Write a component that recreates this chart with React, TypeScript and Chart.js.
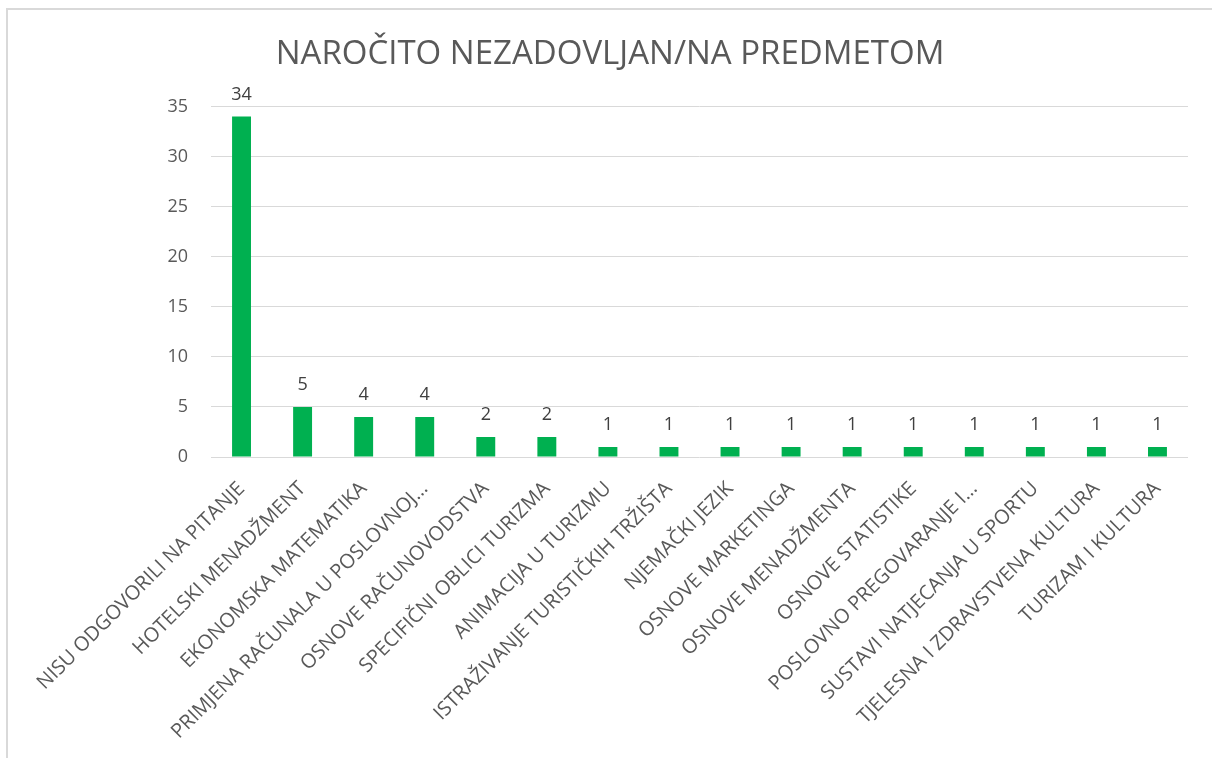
import React, { useEffect, useRef } from "react";
import { Chart, registerables } from "chart.js";

Chart.register(...registerables);

const categories = [
  "NISU ODGOVORILI NA PITANJE",
  "HOTELSKI MENADŽMENT",
  "EKONOMSKA MATEMATIKA",
  "PRIMJENA RAČUNALA U POSLOVNOJ…",
  "OSNOVE RAČUNOVODSTVA",
  "SPECIFIČNI OBLICI TURIZMA",
  "ANIMACIJA U TURIZMU",
  "ISTRAŽIVANJE TURISTIČKIH TRŽIŠTA",
  "NJEMAČKI JEZIK",
  "OSNOVE MARKETINGA",
  "OSNOVE MENADŽMENTA",
  "OSNOVE STATISTIKE",
  "POSLOVNO PREGOVARANJE I…",
  "SUSTAVI NATJECANJA U SPORTU",
  "TJELESNA I ZDRAVSTVENA KULTURA",
  "TURIZAM I KULTURA",
];

const values = [34, 5, 4, 4, 2, 2, 1, 1, 1, 1, 1, 1, 1, 1, 1, 1];

const titleText = "NAROČITO NEZADOVLJAN/NA PREDMETOM";

const yMin = 0;
const yMax = 35;
const yStep = 5;

const valueLabelPlugin = {
  id: "valueLabels",
  afterDatasetsDraw(chart: any) {
    const ctx = chart.ctx;
    const meta = chart.getDatasetMeta(0);
    ctx.save();
    ctx.font = "18px 'Open Sans'";
    ctx.fillStyle = "#404040";
    ctx.textAlign = "center";
    ctx.textBaseline = "alphabetic";
    meta.data.forEach((bar: any, i: number) => {
      const v = chart.data.datasets[0].data[i];
      ctx.fillText(String(v), bar.x, bar.y - 17);
    });
    ctx.restore();
  },
};

export default function App() {
  const canvasRef = useRef<HTMLCanvasElement | null>(null);

  useEffect(() => {
    if (!canvasRef.current) return;
    const chart = new Chart(canvasRef.current, {
      type: "bar",
      data: {
        labels: categories,
        datasets: [
          {
            data: values,
            backgroundColor: "#00B050",
            borderWidth: 0,
            categoryPercentage: 1,
            barPercentage: 0.31,
          },
        ],
      },
      options: {
        responsive: false,
        animation: false,
        layout: { padding: { left: 24, right: 24, top: 0, bottom: 0 } },
        plugins: {
          legend: { display: false },
          tooltip: { enabled: false },
          title: {
            display: true,
            text: titleText,
            color: "#595959",
            font: { family: "'Open Sans'", size: 33, weight: "normal", lineHeight: 1.2 },
            padding: { top: 25, bottom: 32 },
          },
        },
        scales: {
          x: {
            grid: { display: false, drawTicks: false },
            border: { display: false },
            ticks: {
              autoSkip: false,
              maxRotation: 45,
              minRotation: 45,
              padding: 20,
              color: "#595959",
              font: { family: "'Open Sans'", size: 20 },
            },
            afterFit(scale: any) {
              scale.height = 301;
            },
          },
          y: {
            min: yMin,
            max: yMax,
            grid: { color: "#d9d9d9", lineWidth: 1, drawTicks: false },
            border: { display: false },
            ticks: {
              stepSize: yStep,
              padding: 23,
              color: "#595959",
              font: { family: "'Open Sans'", size: 18 },
            },
            afterFit(scale: any) {
              scale.width = 179;
            },
          },
        },
      },
      plugins: [valueLabelPlugin],
    });
    return () => chart.destroy();
  }, []);

  return (
    <div
      style={{
        position: "absolute",
        left: 6,
        top: 8,
        width: 1204,
        height: 748,
        borderLeft: "2px solid #d9d9d9",
        borderTop: "2px solid #d9d9d9",
        background: "#fff",
      }}
    >
      <canvas ref={canvasRef} width={1204} height={748} style={{ display: "block" }} />
    </div>
  );
}
